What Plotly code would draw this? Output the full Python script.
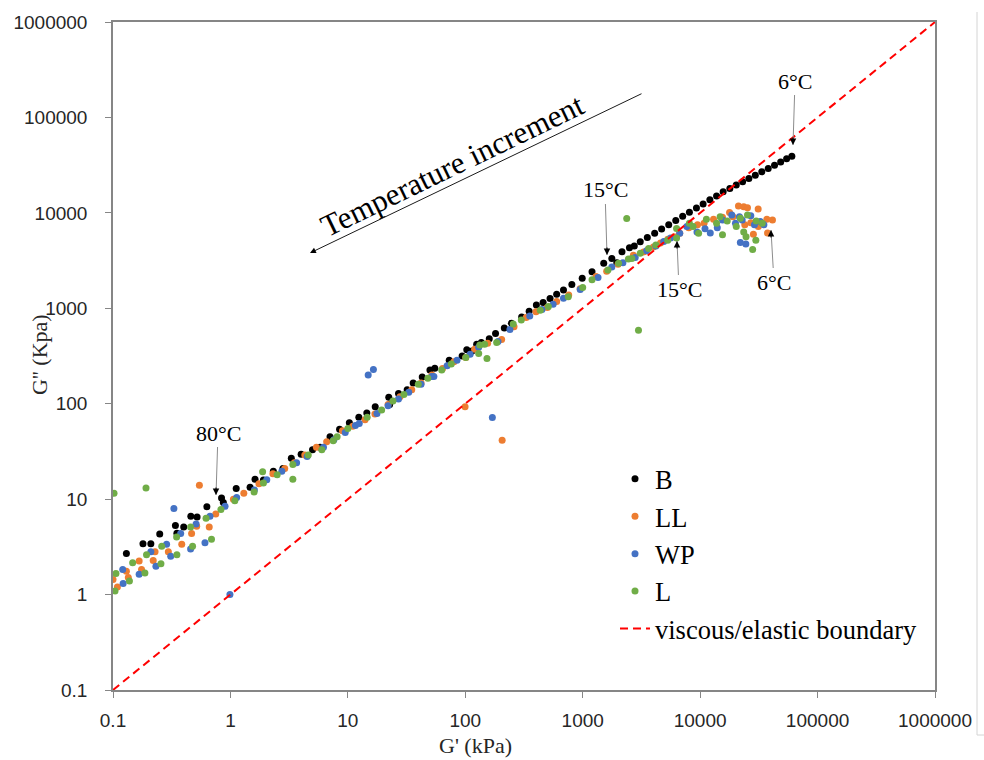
import plotly.graph_objects as go

# Storage modulus G' (kPa) and loss modulus G'' (kPa) per sample, (G', G'') pairs
B_points = [
    (0.13, 2.7), (0.18, 3.4), (0.21, 3.4), (0.25, 4.3), (0.34, 5.3), (0.35, 4.4),
    (0.40, 5.1), (0.46, 6.6), (0.52, 6.5), (0.63, 8.3), (0.84, 10.3), (0.87, 9.2),
    (1.12, 12.9), (1.47, 13.3), (1.62, 16.2), (1.91, 15.9), (2.32, 19.6), (2.8, 21),
    (3.3, 26.8), (4.0, 29.5), (5.0, 33), (5.8, 35), (7.05, 45), (8.5, 54),
    (10.3, 63), (12.4, 72), (14.5, 80), (17.1, 93), (22.3, 117), (22.7, 98),
    (27, 128), (32, 140), (36, 165), (43, 190), (50, 225), (55, 235),
    (73, 285), (94, 316), (103, 367), (114, 357), (125, 420), (137, 437),
    (160, 480), (181, 545), (215, 620), (247, 697), (302, 812), (350, 930),
    (403, 1080), (460, 1150), (527, 1270), (600, 1400), (686, 1550), (808, 1780),
    (990, 2060), (1200, 2420), (1510, 2960), (1770, 3330), (1950, 3000), (2160, 3910),
    (2500, 4300), (2750, 4500), (3090, 4980), (3550, 5520), (4100, 6130), (4700, 6790),
    (5400, 7520), (6200, 8330), (7100, 9210), (8100, 10160), (9300, 11250), (10600, 12400),
    (12100, 13680), (13800, 15060), (15700, 16600), (17900, 18050), (20300, 19570),
    (23000, 21180), (26000, 22900), (29500, 24840), (33500, 26960), (38000, 29220),
    (43000, 31630), (48500, 34150), (54500, 36800), (60400, 39300),
]

LL_points = [
    (0.100, 1.44), (0.109, 1.20), (0.13, 1.76), (0.135, 1.51), (0.167, 2.25), (0.175, 1.83),
    (0.22, 2.28), (0.228, 2.81), (0.296, 2.81), (0.385, 3.36), (0.467, 4.36), (0.516, 5.2),
    (0.544, 14.0), (0.66, 5.1), (0.75, 7.0), (1.06, 10.0), (1.3, 11.5), (1.75, 14.5),
    (2.3, 18.5), (2.9, 21), (3.5, 24), (4.3, 29), (5.4, 35), (6.6, 40),
    (9.0, 52), (11, 58), (14, 68), (17, 78), (22, 98), (27.8, 118),
    (35, 140), (42, 165), (52, 200), (64, 234), (80, 275), (99.6, 93),
    (101, 305), (120, 373), (155, 430), (206, 41.5), (204, 472), (260, 640),
    (330, 800), (400, 920), (500, 1020), (600, 1180), (760, 1380), (950, 1600),
    (1300, 2150), (1600, 2450), (2000, 2900), (2700, 3600), (3300, 3900), (4000, 4400),
    (4600, 4830), (5300, 5300), (6000, 5620), (6700, 6100), (8000, 7000), (9500, 7500),
    (10800, 7800), (13000, 8550), (15500, 9000), (17800, 10060), (19000, 9100), (21200, 11800),
    (23500, 11600), (24000, 7500), (25300, 11300), (27000, 7900), (28400, 5970), (31200, 10950),
    (31300, 7200), (37000, 8550), (37500, 6150), (41300, 8400),
]

WP_points = [
    (0.121, 1.83), (0.122, 1.31), (0.167, 1.63), (0.21, 2.81), (0.232, 1.98), (0.286, 3.36),
    (0.31, 2.52), (0.33, 8.0), (0.377, 4.36), (0.458, 3.0), (0.51, 5.5), (0.607, 3.5),
    (0.67, 6.6), (0.9, 8.4), (0.99, 1.0), (1.13, 10.4), (1.6, 12.5), (2.04, 16),
    (2.74, 19.6), (3.66, 24), (4.5, 28), (6.2, 35), (7.6, 42), (9.5, 50),
    (11.6, 59), (12.5, 62), (14.9, 200), (16.5, 228), (17.7, 79), (22, 95),
    (27, 112), (33, 132), (42, 160), (51.8, 193), (54, 193), (70, 250),
    (85, 285), (110, 330), (130, 390), (170, 71.8), (190, 450), (240, 600),
    (354, 831), (450, 970), (560, 1100), (686, 1275), (953, 1570), (1350, 2100),
    (1770, 2700), (2200, 3000), (2800, 3400), (3500, 4000), (4200, 4500), (4900, 5000),
    (5600, 5450), (6700, 6100), (7700, 7200), (9400, 6300), (11000, 6800), (12200, 6150),
    (14000, 7000), (15500, 8400), (18600, 9500), (20000, 7800), (21600, 9100), (22000, 4900),
    (22800, 8400), (24500, 4730), (27000, 9330), (29000, 7500), (32500, 8100), (34900, 7500),
]

L_points = [
    (0.102, 11.5), (0.104, 1.09), (0.106, 1.66), (0.138, 1.39), (0.147, 2.15), (0.187, 1.68),
    (0.191, 13.1), (0.193, 2.62), (0.256, 2.1), (0.26, 3.2), (0.348, 4.0), (0.35, 2.62),
    (0.458, 5.1), (0.476, 3.2), (0.62, 6.3), (0.69, 3.8), (0.83, 7.8), (1.09, 9.6),
    (1.59, 11.9), (1.88, 19.4), (1.91, 14.8), (2.5, 18), (3.4, 16.2), (3.4, 23),
    (4.6, 29), (6.0, 33), (7.5, 41), (8.1, 45), (10, 55), (14.6, 72),
    (19.4, 86), (24.2, 107), (30, 125), (39.8, 160), (48, 185), (63, 225),
    (76, 260), (101, 305), (130, 335), (133, 412), (146, 420), (153, 298),
    (185, 437), (256, 683), (300, 756), (435, 953), (510, 1043), (753, 1320),
    (1000, 1650), (1200, 1990), (1640, 2520), (2020, 2960), (2370, 8750), (2450, 3290),
    (2620, 3330), (2985, 590), (3090, 3770), (3640, 4220), (4200, 4600), (5300, 5170),
    (6300, 5450), (6300, 6850), (8100, 7800), (8700, 7200), (9700, 6100), (11300, 8550),
    (13800, 7800), (14800, 9100), (15500, 5900), (17000, 8200), (20300, 7200), (22000, 8800),
    (23500, 6300), (24600, 5620), (25300, 9500), (28000, 4140), (29800, 5150), (30000, 8200),
    (33800, 7800),
]

# G' = G'' boundary between viscous and elastic behaviour
boundary_x = [0.1, 1000000]
boundary_y = [0.1, 1000000]

tick_vals = [0.1, 1, 10, 100, 1000, 10000, 100000, 1000000]
tick_text = ["0.1", "1", "10", "100", "1000", "10000", "100000", "1000000"]

series = [
    ("B", B_points, "#000000"),
    ("LL", LL_points, "#ED7D31"),
    ("WP", WP_points, "#4472C4"),
    ("L", L_points, "#70AD47"),
]

SERIF = "Liberation Serif, Times New Roman, serif"
SANS = "Liberation Sans, Arial, sans-serif"

fig = go.Figure()
for name, pts, color in series:
    fig.add_trace(go.Scatter(
        x=[p[0] for p in pts], y=[p[1] for p in pts], name=name,
        mode="markers", marker=dict(color=color, size=7),
    ))
fig.add_trace(go.Scatter(
    x=boundary_x, y=boundary_y, name="viscous/elastic boundary", mode="lines",
    line=dict(color="#FF0000", width=2, dash="8px,5px"),
))

# plot area in pixels: left 113, right 935, top 22, bottom 690
L_PX, R_PX, T_PX, B_PX = 113, 935, 22, 690


def paper(xp, yp):
    return (xp - L_PX) / (R_PX - L_PX), (B_PX - yp) / (B_PX - T_PX)


annotations = []

# "Temperature increment" label and its long arrow
tx, ty = paper(452, 165)
annotations.append(dict(x=tx, y=ty, xref="paper", yref="paper", text="Temperature increment",
                        showarrow=False, textangle=-25.8, xanchor="center", yanchor="middle",
                        font=dict(family=SERIF, size=31, color="#000000")))
hx, hy = paper(310, 253)
annotations.append(dict(x=hx, y=hy, xref="paper", yref="paper", text="", showarrow=True,
                        ax=333, ay=-160, arrowhead=2, arrowsize=1.3, arrowwidth=0.9,
                        arrowcolor="#000000"))

# temperature markers: (text, text centre px, arrow tip px)
temp_labels = [
    ("15°C", (605, 190), (607, 255)),
    ("6°C", (795, 81), (793, 145)),
    ("15°C", (679, 289), (677, 241)),
    ("6°C", (774, 282), (771, 230)),
    ("80°C", (218, 433), (216, 495)),
]
for text, (cx, cy), (ex, ey) in temp_labels:
    px_, py_ = paper(ex, ey)
    annotations.append(dict(x=px_, y=py_, xref="paper", yref="paper", text=text,
                            showarrow=True, ax=cx - ex, ay=cy - ey, arrowhead=0,
                            arrowwidth=1, arrowcolor="#8c8c8c",
                            font=dict(family=SERIF, size=22, color="#000000")))
    d = -9 if cy < ey else 9
    annotations.append(dict(x=px_, y=py_, xref="paper", yref="paper", text="",
                            showarrow=True, ax=0, ay=d, arrowhead=2, arrowsize=1.3,
                            arrowwidth=1, arrowcolor="#000000"))

# axis titles
gx, gy = paper(475, 745)
annotations.append(dict(x=gx, y=gy, xref="paper", yref="paper", text="G' (kPa)",
                        showarrow=False, xanchor="center", yanchor="middle",
                        font=dict(family=SERIF, size=22, color="#262626")))
yx, yy = paper(39, 355)
annotations.append(dict(x=yx, y=yy, xref="paper", yref="paper", text="G'' (Kpa)",
                        showarrow=False, textangle=-90, xanchor="center", yanchor="middle",
                        font=dict(family=SERIF, size=22, color="#262626")))

# thin page edge on the right
ex0, ey0 = paper(977, 12)
ex1, ey1 = paper(977, 735)
ex2, _ = paper(984, 735)
shapes = [
    dict(type="line", xref="paper", yref="paper", x0=ex0, y0=ey0, x1=ex1, y1=ey1,
         line=dict(color="#d4d4d4", width=1)),
    dict(type="line", xref="paper", yref="paper", x0=ex1, y0=ey1, x1=ex2, y1=ey1,
         line=dict(color="#d4d4d4", width=1)),
]

axis_common = dict(
    type="log", showgrid=False, zeroline=False, showline=True, mirror=True,
    linecolor="#868686", linewidth=1.5, ticks="outside", ticklen=6,
    tickcolor="#868686", tickwidth=1, tickvals=tick_vals, ticktext=tick_text,
    tickfont=dict(family=SANS, size=19, color="#262626"),
)

lx, ly = paper(615, 455)
fig.update_layout(
    width=984, height=760, autosize=False,
    margin=dict(l=L_PX, r=984 - R_PX, t=T_PX, b=760 - B_PX),
    paper_bgcolor="white", plot_bgcolor="white",
    xaxis=dict(range=[-1, 6], ticklabelstandoff=6, **axis_common),
    yaxis=dict(range=[-1, 6], ticklabelstandoff=14, **axis_common),
    legend=dict(x=lx, y=ly, xanchor="left", yanchor="top", bgcolor="rgba(0,0,0,0)",
                font=dict(family=SERIF, size=26.5, color="#000000")),
    annotations=annotations, shapes=shapes,
)

fig.write_html("out.html")
